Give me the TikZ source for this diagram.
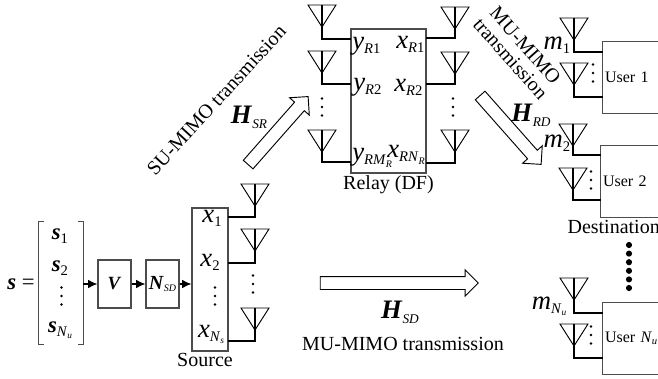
\documentclass[tikz,border=0pt]{standalone}
\usepackage{fontspec}
\setmainfont{Liberation Serif}
\usetikzlibrary{arrows.meta}
\usetikzlibrary{positioning}
\usetikzlibrary{shapes}
\newcommand{\boldit}[1]{\textbf{\textit{#1}}}
\newcommand{\lowtext}[3]{\raisebox{-#2pt}{\fontsize{#1}{#1}\selectfont #3}}

\begin{document}
\begin{tikzpicture}[x=0.75pt,y=-0.75pt,font=\fontsize{15}{17}\selectfont]
  \tikzset{block/.style={rectangle, draw=black!70, line width=0.8pt, inner sep=0pt}}
  \tikzset{userbox/.style={block, minimum width=46pt, minimum height=53.5pt,
      text width=42pt, align=left, font=\fontsize{12}{14}\selectfont}}
  \tikzset{antenna/.style={isosceles triangle, isosceles triangle stretches,
      shape border rotate=-90,
      minimum width=21pt,
      minimum height=16.5pt,
      inner sep=0pt, outer sep=0pt,
      line width=0.7pt,
      draw}}
  \tikzset{feed/.style={line width=1.2pt}}
  \tikzset{to/.style={-{Latex[length=7pt,width=6.5pt]}, line width=1pt}}
  \tikzset{widearrow/.style={single arrow, draw, line width=0.7pt, inner sep=4.5pt,
      single arrow head extend=5pt,
      single arrow head indent=0pt}}
  \tikzset{symbol/.style={inner sep=0pt, font=\fontsize{20}{20}\selectfont}}
  \tikzset{smalldot/.style={circle, fill, inner sep=0pt, minimum size=2pt}}
  \tikzset{bigdot/.style={circle, fill, inner sep=0pt, minimum size=4.6pt}}
  \useasboundingbox (0,0) rectangle (658,379);

  % source side
  \node[inner sep=0pt, font=\fontsize{17}{17}\selectfont] (vecname) at (21,284) {\boldit{s} =};
  \node[minimum width=33pt, minimum height=91.5pt, inner sep=0pt] (vector) at (61,283) {};
  \draw[black!70, line width=0.8pt] ([xshift=4pt]vector.north west) -- (vector.north west)
    -- (vector.south west) -- ([xshift=4pt]vector.south west);
  \draw[black!70, line width=0.8pt] ([xshift=-4pt]vector.north east) -- (vector.north east)
    -- (vector.south east) -- ([xshift=-4pt]vector.south east);
  \node[symbol, font=\fontsize{17}{17}\selectfont] (s1) at (60,236) {\boldit{s}\lowtext{11}{3}{1}};
  \node[symbol, font=\fontsize{17}{17}\selectfont] (s2) at (60,268) {\boldit{s}\lowtext{11}{3}{2}};
  \node[symbol, font=\fontsize{17}{17}\selectfont] (sNu) at (60,330)
    {\boldit{s}\lowtext{11}{3}{\textit{N}\lowtext{7}{1.5}{\textit{u}}}};
  \node[block, minimum width=24.75pt, minimum height=36pt] (precoder) at (114.5,284)
    {\fontsize{14}{14}\selectfont\boldit{V}};
  \node[block, minimum width=24.75pt, minimum height=36pt] (power) at (162.5,284)
    {\fontsize{15}{15}\selectfont\boldit{N}\lowtext{7.5}{2}{\textit{SD}}};
  \node[block, minimum width=27pt, minimum height=107.25pt] (source) at (210,279.5) {};
  \node[below=0pt of source, inner sep=1pt, xshift=-3.75pt] (sourcename) {Source};
  \draw[to] (vector.east |- precoder) -- (precoder);
  \draw[to] (precoder) -- (power);
  \draw[to] (power) -- (source.west |- power);
  \node[symbol] (x1) at (212,218) {\textit{x}\lowtext{11}{3}{1}};
  \node[symbol] (x2) at (210,262) {\textit{x}\lowtext{11}{3}{2}};
  \node[symbol] (xNs) at (211,334) {\textit{x}\lowtext{11}{3}{\textit{N}\lowtext{7}{1.5}{\textit{s}}}};

  % relay
  \node[block, minimum width=56.25pt, minimum height=108pt] (relay) at (388.5,101) {};
  \node[below=0pt of relay, inner sep=1pt] (relayname) {Relay (DF)};
  \node[symbol, anchor=west] (yR1) at (352,46) {\textit{y}\lowtext{11}{3}{\textit{R}1}};
  \node[symbol, anchor=west] (xR1) at (396,44) {\textit{x}\lowtext{11}{3}{\textit{R}1}};
  \node[symbol, anchor=west] (yR2) at (353,87) {\textit{y}\lowtext{11}{3}{\textit{R}2}};
  \node[symbol, anchor=west] (xR2) at (394,87) {\textit{x}\lowtext{11}{3}{\textit{R}2}};
  \node[symbol, anchor=west] (yRM) at (352,158)
    {\textit{y}\lowtext{11}{3}{\textit{RM}\lowtext{7.5}{2}{\textit{R}}}};
  \node[symbol, anchor=west] (xRN) at (387,155)
    {\textit{x}\lowtext{11}{3}{\textit{RN}\lowtext{7.5}{2}{\textit{R}}}};

  % destination
  \node[userbox] (user1) at (633,77.5) {User 1};
  \node[userbox] (user2) at (631,181.5) {User 2};
  \node[userbox] (userNu) at (633,338.5)
    {User \textit{N}\lowtext{8}{1.5}{\textit{u}}};
  \node[below=1pt of user2, inner sep=1pt, xshift=-13pt] (destname) {Destination};
  \node[symbol] (m1) at (557,45) {\textit{m}\lowtext{11}{3}{1}};
  \node[symbol] (m2) at (557,143) {\textit{m}\lowtext{11}{3}{2}};
  \node[symbol] (mNu) at (549,306)
    {\textit{m}\lowtext{11}{3}{\textit{N}\lowtext{7}{1.5}{\textit{u}}}};

  % antennas: name, centre, top of triangle, height of the feed, box side
  \foreach \name/\cx/\top/\feed/\side in {
      sa1/255/184/217/227.5, sa2/255/229/263/227.5, sa3/255/308/341/227.5,
      ra1/322/5/39/351, ra2/322/51/84/351, ra3/322/130/162/351,
      rb1/455/7/38/426, rb2/455/52/84/426, rb3/455/130/163/426,
      ua1/574/18/52/603, ua2/574/63/97/603,
      ub1/573/124/155/601, ub2/573/168/200/601,
      uc1/574/278/313/603, uc2/574/324/358/603}{
    \node[antenna, anchor=lower side] (\name) at (\cx,\top) {};
    \coordinate (\name port) at (\side,\feed);
    \draw[feed] (\name.lower side) |- (\name port);
  }

  % small dots
  \foreach \cx/\cy in {61.5/296, 215/296, 253/284, 322/107, 453/107, 593/73, 591/180, 591/335}{
    \foreach \k in {-1,0,1}
      \node[smalldot] (dot\cx-\cy-\k) at (\cx,\cy+\k*8.5) {};
  }
  \foreach \k in {0,...,5}
    \node[bigdot] (user dot\k) at (629,245+\k*8.6) {};

  % wide arrows
  \node[widearrow, minimum height=68pt, rotate=48.6] (arrowSR) at (276,133) {};
  \node[widearrow, minimum height=69pt, rotate=-48.5] (arrowRD) at (508.5,127.5) {};
  \node[widearrow, minimum height=118.5pt] (arrowSD) at (396,283) {};
  \node[symbol] (HSR) at (249,117) {\boldit{H}\lowtext{10}{4}{\textit{SR}}};
  \node[symbol] (HRD) at (531,115) {\boldit{H}\lowtext{10}{4}{\textit{RD}}};
  \node[symbol] (HSD) at (400,312) {\boldit{H}\lowtext{10}{4}{\textit{SD}}};

  \node[rotate=47.5, inner sep=0pt] (labelSR) at (216.5,100) {SU-MIMO transmission};
  \node[rotate=-48.5, inner sep=0pt, align=center] (labelRD) at (518,52) {MU-MIMO\\[-2pt]transmission};
  \node[inner sep=0pt] (labelSD) at (403,344) {MU-MIMO transmission};
\end{tikzpicture}
\end{document}
